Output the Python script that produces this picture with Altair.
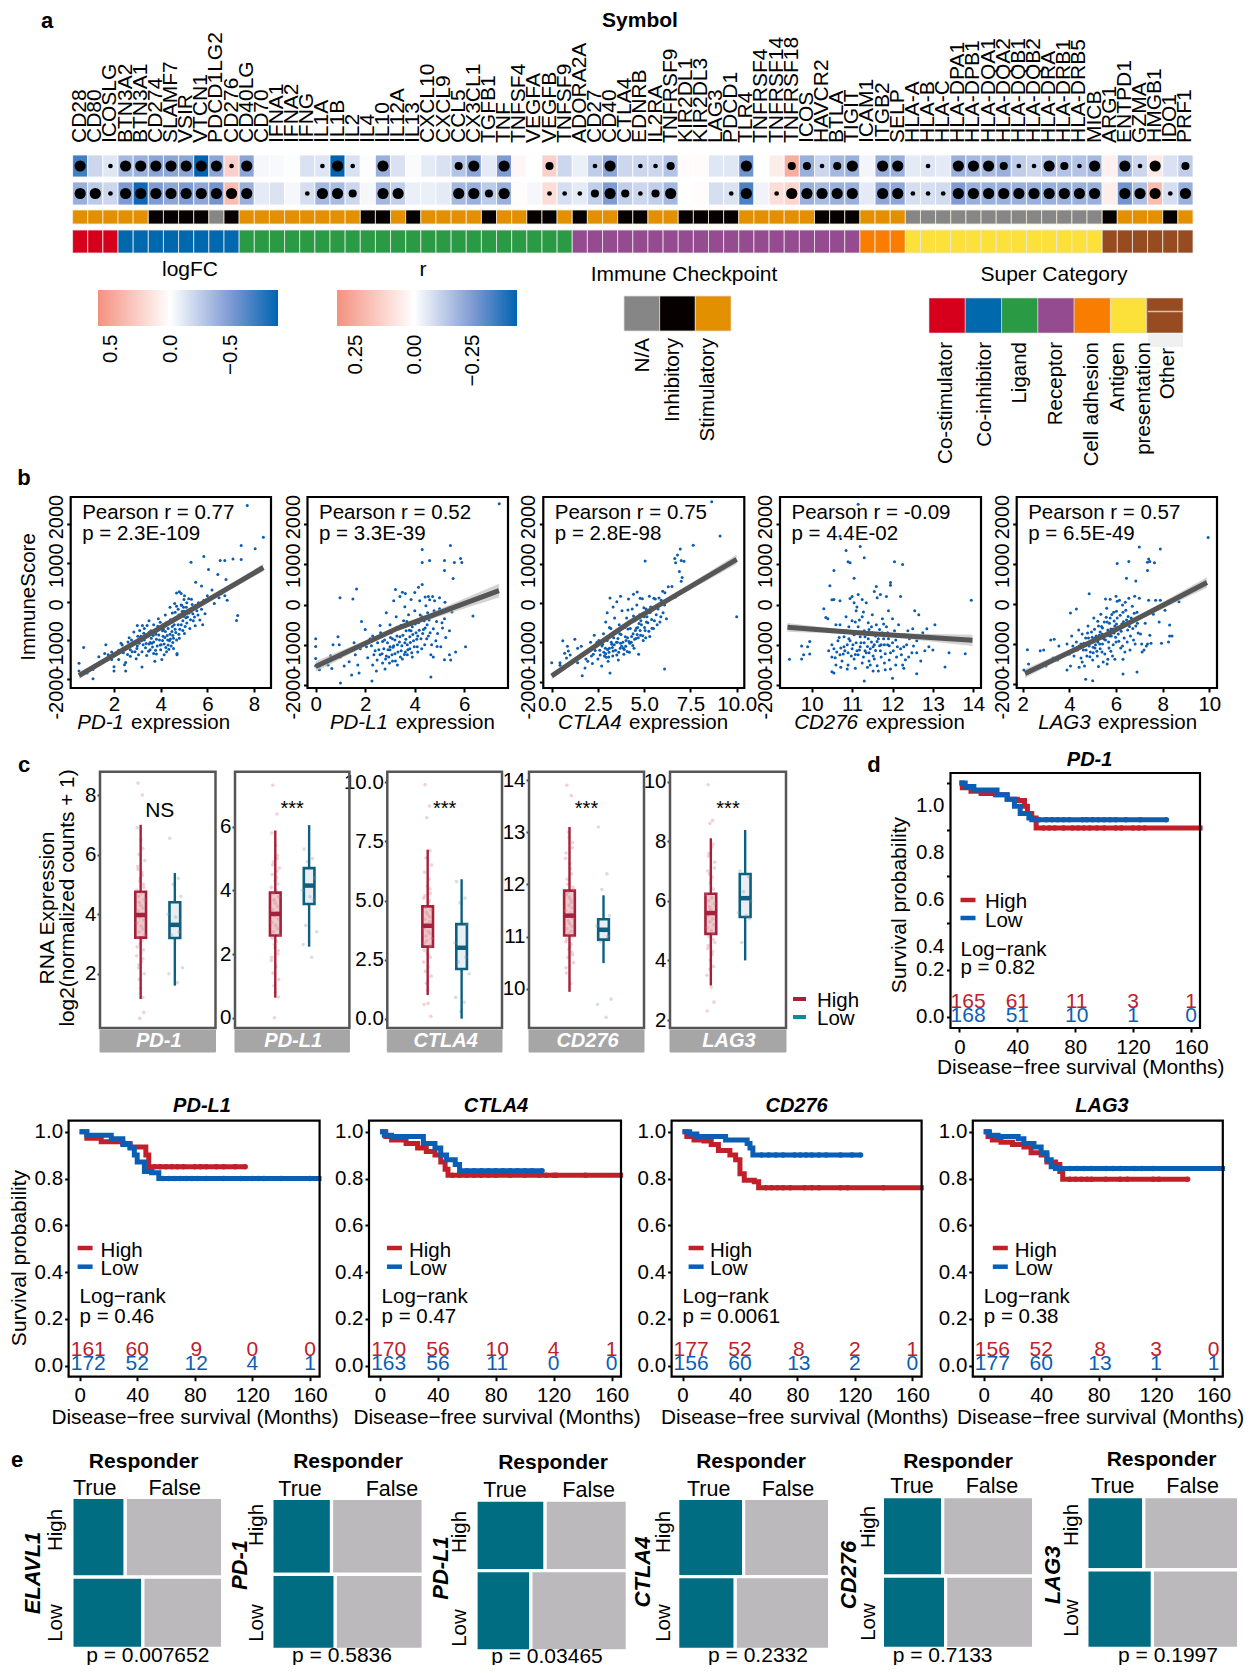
import altair as alt
import pandas as pd

# ---------------- panel a data ----------------
SYMBOLS = ["CD28","CD80","ICOSLG","BTN3A2","BTN3A1","CD274","SLAMF7","VSIR","VTCN1","PDCD1LG2","CD276","CD40LG","CD70",
 "IFNA1","IFNA2","IFNG","IL1A","IL1B","IL2","IL4","IL10","IL12A","IL13","CXCL10","CXCL9","CCL5","CX3CL1","TGFB1","TNF",
 "TNFSF4","VEGFA","VEGFB","TNFSF9","ADORA2A","CD27","CD40","CTLA4","EDNRB","IL2RA","TNFRSF9","KIR2DL1","KIR2DL3","LAG3",
 "PDCD1","TLR4","TNFRSF4","TNFRSF14","TNFRSF18","ICOS","HAVCR2","BTLA","TIGIT","ICAM1","ITGB2","SELP","HLA-A","HLA-B",
 "HLA-C","HLA-DPA1","HLA-DPB1","HLA-DQA1","HLA-DQA2","HLA-DQB1","HLA-DQB2","HLA-DRA","HLA-DRB1","HLA-DRB5","MICB","ARG1",
 "ENTPD1","GZMA","HMGB1","IDO1","PRF1"]
LOGFC = [-.7,-.2,-.12,-.35,-.4,-.45,-.45,-.45,-.9,-.45,.25,-.45,-.04,-.03,-.01,-.15,-.13,-.9,-.15,-.01,-.4,-.15,-.02,-.1,-.15,
 -.3,-.45,-.1,-.5,.05,0,.25,-.2,-.08,-.25,-.45,-.2,-.2,-.2,-.3,.02,.02,-.12,-.12,-.55,0,.1,.45,-.4,-.2,-.35,-.4,-.05,-.4,-.4,
 -.1,-.13,-.1,-.4,-.35,-.35,-.4,-.25,-.2,-.3,-.3,-.3,-.35,.08,-.35,-.2,.12,-.15,-.25]
RVAL = [-.2,-.13,-.1,-.25,-.42,-.25,-.22,-.25,-.22,-.27,.2,-.2,-.05,-.07,-.02,-.08,-.18,-.17,-.1,-.02,-.18,-.12,-.04,-.04,-.05,
 -.18,-.2,-.13,-.2,.01,-.02,.1,-.08,-.05,-.12,-.25,-.12,-.1,-.12,-.18,0,.01,-.08,-.07,-.33,-.03,.1,.13,-.2,-.17,-.2,-.2,-.05,
 -.22,-.22,-.08,-.08,-.09,-.25,-.2,-.2,-.2,-.2,-.2,-.2,-.2,-.2,-.2,.05,-.27,-.16,.2,-.08,-.2]
DOT_FC = [3,0,1,3,3,3,3,3,3,3,1,3,0,0,0,0,1,3,1,0,3,0,0,0,0,2,3,0,3,0,0,2,0,0,1,3,0,1,1,2,0,0,0,0,3,0,0,2,2,1,2,3,0,3,3,0,1,0,3,3,3,2,1,1,3,2,1,3,0,3,1,3,0,2]
DOT_R = [3,3,1,3,3,3,3,3,3,3,3,3,0,0,0,1,3,3,2,0,3,3,0,0,0,3,3,2,3,0,0,1,1,1,2,3,2,1,2,3,0,0,0,1,3,0,1,3,3,3,3,3,0,3,3,1,1,1,3,3,3,3,3,3,3,3,3,3,0,3,3,3,1,3]
CHECKPOINT = list("SSSSSIIIINISSSSSSSSIISISSSSISSIISISSIISSIIIISSSSSIIISSS") + ["N"]*13 + list("ISSSIS")
SUPER = ["Co-stimulator"]*3+["Co-inhibitor"]*8+["Ligand"]*22+["Receptor"]*19+["Cell adhesion"]*3+["Antigen presentation"]*13+["Other"]*6
SUPER_NAMES = ["Co-stimulator","Co-inhibitor","Ligand","Receptor","Cell adhesion","Antigen presentation","Other"]
SUPER_COLORS = ["#d7001c","#0068ac","#2a9a44","#944b8f","#f97d00","#fbe13a","#964b21"]
CK_NAMES = ["N/A","Inhibitory","Stimulatory"]
CK_COLORS = {"N":"#868686","I":"#060000","S":"#e39000"}
FC_DOMAIN = [-.9,-.5,0,.6]
R_DOMAIN = [-.44,-.25,0,.33]
HEAT_RANGE = ["#0063b1","#7f9bd3","#ffffff","#f4917f"]
DOT_AREA = {0:0,1:22,2:66,3:125}

# ---------------- panel b data ----------------
B_GENES = ["PD-1","PD-L1","CTLA4","CD276","LAG3"]
B_R = ["Pearson r = 0.77","Pearson r = 0.52","Pearson r = 0.75","Pearson r = -0.09","Pearson r = 0.57"]
B_P = ["p = 2.3E-109","p = 3.3E-39","p = 2.8E-98","p = 4.4E-02","p = 6.5E-49"]
B_YLABELS = ["2000","1000","0","-1000","-2000"]
FIT = {"PD-1":[(.5,-1920,90),(4.3,-570,28),(8.4,880,100)],"PD-L1":[(0,-1540,130),(3.3,-590,35),(7.4,350,170)],
       "CTLA4":[(0,-1855,90),(4.2,-500,28),(10,1110,120)],"CD276":[(9.4,-565,110),(11.4,-720,28),(13.98,-888,140)],
       "LAG3":[(2.1,-1737,110),(5.6,-760,28),(9.9,543,130)]}
SC_PD1 = [(7.71,2487),(8.4,1666),(8.05,1365),(7.45,1450),(7.45,1088),(7.1,1100),(6.75,1060),(6.55,1060),(5.85,1165),(5.3,1020),(6.05,830),(6.45,700),(7.3,-362),(7.25,-490),
(.5,-1600),(.5,-1800),(.7,-1190),(1.1,-1760),(1.1,-2000),(.85,-1850),(1.35,-1430),(1.65,-1120),(1.6,-1350),(1.75,-1380),(1.9,-1310),(1.9,-1500),(2.0,-1690),(2.0,-1800),(2.2,-1260),(2.2,-1500),(2.35,-1130),(2.4,-1330),(2.45,-1640),(2.5,-1580),(2.5,-1800),(2.6,-1050),(2.65,-940),(2.7,-1250),(2.7,-1420),(2.8,-1110),(2.85,-790),(2.9,-1300),(2.95,-1480),(3.0,-620),(3.0,-1050),(3.0,-1150),(3.15,-900),(3.2,-1300),(3.2,-1700),(3.3,-700),(3.3,-1000),(3.35,-1200),(3.4,-1400),(3.5,-500),(3.5,-800),(3.5,-1100),(3.55,-1250),(3.6,-950),(3.7,-600),(3.7,-1050),(3.7,-1350),(3.75,-1550),(3.8,-850),(3.85,-1150),(3.9,-450),(3.9,-720),(3.95,-1000),(4.0,-1250),(4.05,-1500),(4.1,-600),(4.1,-900),(4.15,-1100),(4.2,-350),(4.2,-780),(4.25,-1300),(4.3,-1000),(4.35,-550),(4.4,-150),(4.4,-850),(4.45,-1150),(4.5,-300),(4.5,-650),(4.55,-950),(4.6,-50),(4.6,-480),(4.65,-800),(4.7,-1350),(4.7,-1380),(4.75,-200),(4.75,-600),(4.8,250),(4.8,-950),(4.85,-350),(4.9,-100),(4.95,-500),(4.95,-750),(5.0,50),(5.0,-250),(5.05,-650),(5.1,-150),(5.15,-400),(5.2,70),(5.25,-700),(5.3,-250),(5.35,-80),(5.4,-500),(5.5,500),(5.5,-100),(5.6,-350),(5.75,400),(5.75,-200),(5.8,-600),(5.9,-320),(6.0,150),(6.2,300),(6.3,-50),(6.5,100),(6.6,200),(6.8,570),(6.75,150),(6.85,30),
(2.55,-1200),(2.75,-1000),(3.05,-1380),(3.1,-750),(3.25,-1120),(3.45,-900),(3.65,-1180),(3.72,-780),(3.92,-870),(4.02,-1120),(4.12,-720),(4.28,-880),(4.38,-1020),(4.48,-780),(4.58,-600),(4.72,-450),(4.82,-720),(4.92,-260),(5.08,-420),(5.22,-300),
(2.3,-1080),(2.58,-1370),(2.68,-1130),(2.78,-1300),(2.88,-1050),(2.98,-1220),(3.08,-1080),(3.18,-1020),(3.28,-820),(3.38,-1090),(3.48,-1290),(3.58,-760),(3.62,-1080),(3.68,-880),(3.78,-1260),(3.82,-980),(3.88,-640),(3.98,-1130),(3.98,-540),(4.08,-1010),(4.08,-760),(4.18,-930),(4.22,-1190),(4.22,-560),(4.32,-700),(4.32,-1130),(4.42,-470),(4.42,-970),(4.52,-1060),(4.52,-880),(4.62,-720),(4.62,-280),(4.68,-1000),(4.68,-120),(4.78,-850),(4.78,-350),(4.88,-600),(4.88,-90),(4.98,-380),(4.98,-150),(5.02,-830),(5.12,-560),(5.12,-30),(5.18,-240),(5.28,-470),(5.32,60),(5.38,-320),(5.48,-630),(5.55,-240),(5.62,-30),(3.02,-900),(3.22,-620),(3.42,-620),(3.55,-1060),(3.82,-1360),(4.15,-1380),(4.35,-1240),(4.55,-1220),(5.45,-400),(5.68,-480),(5.85,30),(4.68,220),(4.88,210),(5.02,150)]
SC_PDL1 = [(7.41,2510),(4.3,1370),(5.44,1470),(4.3,1050),(4.6,1100),(5.2,1100),(5.2,850),(5.6,1050),(5.85,1150),(5.9,1050),(5.55,650),(.98,170),(1.5,140),(1.65,390),(0,-850),(0,-1040),(0,-1340),(0,-1530),(.15,-1620),(6.35,-280),(5.4,-1250),(5.65,-1180),(6.05,-1050),(5.2,-1370),(4.65,-1250),(4.9,-1040),(5.45,-1380),(4.75,-1300),(4.65,-1800),(2.27,-1900),(1.0,-1950),(1.45,-1750),(1.75,-1700),
(.5,-1500),(.6,-1270),(.7,-1000),(.65,-1590),(.9,-800),(.95,-1000),(1.0,-1300),(1.15,-1530),(1.2,-1180),(1.35,-1420),(1.55,-950),(1.6,-1250),(1.7,-1500),(1.8,-1100),(1.85,-420),(2.0,-620),(2.05,-1050),(2.1,-1320),(2.2,-850),(2.3,-1500),(2.3,-780),(2.4,-1150),(2.45,-1650),(2.5,-950),(2.6,-1250),(2.6,-520),(2.65,-800),(2.7,-1450),(2.75,-1100),(2.8,-1600),(2.85,-200),(2.9,-950),(2.95,-1300),(3.0,-500),(3.0,-1120),(3.05,-700),(3.1,-1400),(3.15,100),(3.2,-880),(3.2,-1220),(3.25,-300),(3.3,-1000),(3.3,-1500),(3.35,-600),(3.4,200),(3.4,-800),(3.45,-1150),(3.5,-1350),(3.55,-400),(3.6,-50),(3.6,-950),(3.65,-650),(3.7,-1250),(3.75,-250),(3.8,-800),(3.8,-1100),(3.9,-550),(3.9,-1300),(3.95,-900),(4.0,300),(4.0,-150),(4.05,-700),(4.1,-1050),(4.15,-450),(4.2,100),(4.25,-850),(4.3,500),(4.3,-300),(4.35,-620),(4.4,-1000),(4.45,-30),(4.5,-500),(4.55,-780),(4.6,120),(4.7,-300),(4.75,-600),(4.8,100),(4.85,-900),(5.0,-100),(5.1,-450),(5.2,-350),(5.4,-650),(5.5,-180),(3.0,-1050),(2.85,-1280),(3.15,-1020),(3.42,-1300),(3.62,-1180),(3.1,-850),(2.7,-920),(3.7,-1000),(3.85,-650),(4.12,-780),
(2.25,-1020),(2.35,-1250),(2.48,-1380),(2.55,-1120),(2.62,-700),(2.68,-1220),(2.78,-880),(2.82,-1350),(2.92,-1120),(2.98,-1450),(3.02,-820),(3.08,-1250),(3.12,-1060),(3.18,-640),(3.22,-1400),(3.28,-780),(3.32,-1180),(3.38,-930),(3.44,-520),(3.48,-1020),(3.52,-760),(3.58,-1240),(3.64,-860),(3.68,-420),(3.72,-1120),(3.78,-640),(3.82,-940),(3.88,-1200),(3.92,-740),(3.98,-1050),(4.02,-480),(4.08,-860),(4.12,-1180),(4.18,-640),(4.22,-260),(4.28,-1100),(4.32,-720),(4.38,-400),(4.42,-580),(4.48,-850),(4.52,-200),(4.58,-380),(4.62,-700),(4.68,-1000),(4.78,-150),(4.88,-420),(4.92,-720),(5.05,-1050),(5.12,-580),(5.25,-820),(3.22,380),(3.5,310),(3.62,280),(3.85,130),(4.15,430),(4.42,190),(4.55,200),(4.72,200),(5.0,170),(5.22,60)]
SC_CTLA4 = [(8.65,2570),(9.1,1700),(7.65,1470),(6.95,1370),(5.05,1070),(6.65,1130),(6.7,1020),(6.8,1220),(7.15,1060),(7.0,1080),(6.9,800),(7.05,650),(7.0,550),(10,-350),(6.1,-1680),(3.15,130),(0,-1520),(.45,-1520),(.45,-1580),(.6,-960),(.85,-1100),(.9,-1220),(1.0,-1320),(1.3,-1420),(1.4,-1520),(.7,-1280),(.8,-1400),(1.25,-920),(1.65,-1850),(1.8,-1650),(1.0,-1540),
(1.4,-1150),(1.6,-1100),(1.7,-1280),(1.85,-1420),(2.0,-1200),(2.1,-1000),(2.2,-1540),(2.25,-1300),(2.3,-820),(2.4,-1100),(2.5,-1420),(2.55,-950),(2.6,-1200),(2.7,-1600),(2.75,-1050),(2.8,-780),(2.85,-1350),(2.9,-1150),(3.0,-250),(3.0,-950),(3.05,-1480),(3.1,-1250),(3.15,-1780),(3.2,-650),(3.25,-1050),(3.3,-1350),(3.35,-880),(3.4,-380),(3.45,-1200),(3.5,-700),(3.55,-1000),(3.6,-1450),(3.65,-550),(3.7,-1150),(3.75,-800),(3.8,-200),(3.85,-1000),(3.9,-1300),(3.95,-620),(4.0,-1100),(4.05,-380),(4.1,-880),(4.15,100),(4.2,-1250),(4.25,-650),(4.3,-1000),(4.35,-150),(4.4,-780),(4.45,-1150),(4.5,-450),(4.55,-900),(4.6,-50),(4.65,-620),(4.7,-1300),(4.75,-300),(4.8,-820),(4.85,-550),(4.9,110),(4.95,-950),(5.0,-350),(5.05,-700),(5.1,-150),(5.2,-500),(5.3,-850),(5.35,-100),(5.4,-420),(5.5,-650),(5.6,100),(5.65,-300),(5.7,-550),(5.8,130),(5.9,-350),(6.0,300),(6.1,-50),(6.2,-400),(6.3,410),(6.5,420),(6.7,150),
(3.5,-1000),(3.62,-1250),(3.78,-1100),(3.88,-1150),(4.02,-950),(4.22,-1020),(4.32,-850),(4.52,-700),(4.62,-800),(4.72,-520),(4.82,-450),(5.02,-620),(5.12,-480),(2.82,-1250),(2.95,-1380),(3.12,-1150),(3.22,-1000),(3.32,-1220),
(1.95,-1480),(2.15,-1350),(2.35,-1210),(2.45,-1000),(2.62,-1320),(2.72,-1090),(2.92,-1290),(3.02,-1180),(3.08,-1370),(3.18,-830),(3.28,-1130),(3.38,-1060),(3.42,-760),(3.52,-1320),(3.58,-900),(3.68,-780),(3.72,-1020),(3.82,-600),(3.92,-1180),(3.98,-860),(4.08,-1230),(4.12,-660),(4.18,-980),(4.28,-480),(4.38,-1080),(4.42,-330),(4.48,-920),(4.58,-640),(4.68,-880),(4.78,-700),(4.88,-280),(4.92,-830),(4.98,-120),(5.08,-880),(5.15,-350),(5.25,-720),(5.32,-240),(5.42,-640),(5.45,-130),(5.55,-450),(5.75,-150),(5.85,-480),(4.12,-180),(4.42,220),(4.62,280),(3.72,170),(3.52,30),(3.32,-100),(3.12,-620),(2.92,-480),(5.28,170),(5.52,120),(5.92,70),(6.12,260),(6.02,-250),(4.78,120)]
SC_CD276 = [(11.15,2500),(10.7,1700),(10.85,1350),(11.2,1450),(11.3,1170),(10.9,1070),(10.95,1040),(10.55,850),(12.05,1070),(12.25,1000),(11.05,660),(10.45,470),(11.95,550),(11.95,480),(13.95,110),(9.45,-1360),(9.75,-1030),(9.95,-920),(9.9,-1050),(9.8,-1250),(9.95,-1230),(9.75,-1350),(10.55,-1700),(10.5,-1670),(11.3,-1900),(12.0,-1830),(12.6,-1720),(13.3,-1550),(13.0,-1130),(13.8,-1220),(13.4,-1200),
(10.3,-100),(10.35,-320),(10.4,-350),(10.5,120),(10.55,130),(10.6,-500),(10.7,100),(10.7,-500),(10.5,-1000),(10.5,-1300),(10.55,-1100),(10.6,-1500),(10.65,-900),(10.7,-1250),(10.75,-1400),(10.8,-800),(10.8,-1050),(10.85,-300),(10.85,-650),(10.9,-1200),(10.9,-1500),(10.95,-900),(11.0,200),(11.0,-400),(11.0,-1100),(11.05,-750),(11.05,-1350),(11.1,-150),(11.1,-950),(11.15,250),(11.15,-550),(11.15,-1250),(11.2,-800),(11.2,-1050),(11.25,-300),(11.25,-1450),(11.3,-650),(11.3,-950),(11.35,50),(11.35,-1200),(11.4,-450),(11.4,-850),(11.45,-1500),(11.45,-1100),(11.5,-250),(11.5,-700),(11.55,-1000),(11.55,-1350),(11.6,450),(11.6,-500),(11.65,-850),(11.65,-1650),(11.7,250),(11.7,-1150),(11.75,-350),(11.75,-700),(11.8,-1000),(11.8,-1450),(11.85,200),(11.85,-550),(11.9,-150),(11.9,-850),(11.95,-1200),(11.95,-1600),(12.0,-350),(12.0,-950),(12.05,-650),(12.1,-1300),(12.15,-500),(12.2,-1100),(12.2,200),(12.25,-1500),(12.3,-750),(12.35,-1000),(12.4,-1300),(12.5,-600),(12.55,-150),(12.6,-900),(12.6,-1200),(12.65,-250),(12.7,-1400),(12.75,-700),(12.8,-1150),(12.85,-600),(12.9,-1050),(13.05,-500),
(11.02,-1000),(11.12,-1150),(11.22,-680),(11.32,-1150),(11.42,-1200),(11.52,-1050),(11.62,-920),(11.72,-1000),(11.92,-1020),(10.92,-850),(10.82,-1150),(11.42,-620),(11.28,-1300),
(10.62,-1180),(10.68,-820),(10.72,-1080),(10.78,-1230),(10.88,-1000),(10.92,-550),(10.98,-1280),(11.02,-700),(11.08,-430),(11.08,-1240),(11.12,-60),(11.18,-380),(11.18,-1130),(11.22,-950),(11.28,-180),(11.32,-800),(11.38,-1040),(11.42,-1400),(11.48,-930),(11.48,-550),(11.52,-1280),(11.58,-780),(11.58,-1140),(11.62,-1520),(11.68,-620),(11.68,-1020),(11.72,-1300),(11.78,-850),(11.78,-480),(11.82,-1220),(11.88,-700),(11.88,-1000),(11.92,-1380),(11.98,-760),(12.02,-1150),(12.08,-880),(12.12,-1050),(12.18,-780),(12.22,-1250),(12.28,-1050),(12.32,-1370),(12.38,-650),(12.42,-850),(12.48,-1200),(12.52,-1030),(10.42,-1150),(10.58,-1320),(10.72,-1560),(10.88,-1600),(11.08,-1580),(11.38,-1560),(11.52,-1650),(11.82,-1620),(12.08,-1500),(12.28,-1580),(10.95,150),(11.25,130),(11.05,50),(11.55,330),(11.62,170)]
SC_LAG3 = [(9.95,1670),(7.9,1380),(7.0,1430),(7.4,1130),(7.35,1050),(7.45,1070),(7.65,1040),(6.05,1020),(6.55,1070),(7.35,840),(6.45,650),(6.85,580),(2.2,-1140),(2.75,-1170),(2.9,-1150),(2.25,-1500),(2.05,-1650),(3.35,-880),(3.2,-900),(4.85,260),(4.3,-120),(4.05,-220),(8.7,60),(8.3,-520),(8.3,-800),(8.4,-800),(7.95,-980),(8.25,-950),(6.3,-1750),(6.9,-1700),(5.0,-1920),(4.7,-1880),
(3.0,-1550),(3.3,-1350),(3.5,-1400),(3.55,-1050),(3.7,-1300),(3.9,-1650),(3.9,-1000),(4.0,-1250),(4.05,-1550),(4.1,-800),(4.15,-1050),(4.2,-1300),(4.3,-950),(4.35,-1150),(4.4,-650),(4.5,-1350),(4.5,-1000),(4.55,-750),(4.6,-1150),(4.65,-1550),(4.7,-850),(4.75,-1300),(4.8,-550),(4.85,-1050),(4.9,-1200),(4.95,-700),(5.0,-950),(5.0,-1400),(5.05,-350),(5.1,-1100),(5.15,-800),(5.2,-1300),(5.25,-550),(5.3,-1000),(5.35,-250),(5.4,-750),(5.4,-1200),(5.45,-1450),(5.5,-450),(5.55,-900),(5.6,-100),(5.65,-650),(5.7,-1100),(5.75,-350),(5.8,-800),(5.85,-1300),(5.9,-200),(5.95,-550),(6.0,-950),(6.0,200),(6.05,-350),(6.1,-750),(6.15,100),(6.2,-1100),(6.25,-500),(6.3,-200),(6.35,-850),(6.4,50),(6.45,-400),(6.5,-650),(6.55,150),(6.6,-1150),(6.65,-350),(6.7,-50),(6.75,-900),(6.8,200),(6.85,-550),(6.9,-200),(7.0,150),(7.05,-750),(7.1,-1000),(7.2,-1150),(7.3,-1050),(7.4,100),(7.45,-780),(7.6,-250),(7.7,100),(7.9,100),(7.85,-450),(8.1,-150),(7.5,-980),
(5.1,-850),(5.22,-950),(5.32,-700),(5.42,-600),(5.52,-780),(5.62,-450),(5.72,-800),(4.92,-950),(5.02,-1080),(4.82,-850),(5.78,-620),(5.92,-720),(6.02,-500),
(4.25,-1120),(4.42,-1050),(4.62,-980),(4.72,-1150),(4.78,-720),(4.88,-1320),(4.98,-830),(5.02,-1220),(5.08,-630),(5.12,-1020),(5.18,-1180),(5.22,-430),(5.28,-780),(5.32,-1120),(5.38,-560),(5.42,-1000),(5.48,-870),(5.52,-1250),(5.58,-330),(5.62,-720),(5.68,-950),(5.72,-480),(5.78,-1180),(5.82,-260),(5.88,-620),(5.88,-1020),(5.92,-420),(5.98,-830),(6.02,-180),(6.08,-580),(6.12,-930),(6.18,-280),(6.22,-680),(6.28,-1050),(6.32,-440),(6.38,-1200),(6.42,-150),(6.48,-950),(6.52,-310),(6.58,-560),(6.62,-800),(6.72,-610),(6.78,-230),(6.82,-1000),(6.92,-480),(6.95,-720),(7.12,-1200),(7.25,-480),(7.35,-1000),(5.65,-1380),(5.95,-1380),(6.3,-1380),(4.55,-1450),(5.25,-1560),(5.62,-1500),(4.42,-1580),(6.28,-20),(6.05,70),(5.75,120),(5.55,130)]
SCATTER = {"PD-1":SC_PD1,"PD-L1":SC_PDL1,"CTLA4":SC_CTLA4,"CD276":SC_CD276,"LAG3":SC_LAG3}

# ---------------- panel c data ----------------
BOXES = {"PD-1":[(3.21,3.97,4.75,1.15,7.0),(3.2,3.64,4.4,1.6,5.38)],
 "PD-L1":[(2.58,3.26,3.93,.63,5.88),(3.57,4.15,4.7,2.23,6.05)],
 "CTLA4":[(3.05,3.93,4.75,1.0,7.15),(2.1,3.0,4.0,0,5.9)],
 "CD276":[(11.02,11.4,11.88,9.94,13.1),(10.94,11.13,11.33,10.49,11.79)],
 "LAG3":[(4.89,5.59,6.24,3.16,8.1),(5.46,6.09,6.9,4.0,8.38)]}
JIT = [-.06,.04,-.02,.07,-.08,.01,.05,-.04,.09,-.07,.03,-.01,.06,-.09,.02,-.05,.08,-.03,.0,.05]
HIGH_PTS = {"PD-1":[8.4,8.0,.5,.7,6.9,6.5,6.2,6.0,5.8,5.6,5.4,5.2,5.0,4.8,4.7,4.6,4.5,4.4,4.3,4.2,4.1,4.0,3.9,3.8,3.7,3.6,3.5,3.4,3.3,3.2,3.1,3.0,2.8,2.6,2.4,2.2,2.0,1.8,1.5,1.2,5.5,5.3,5.1,4.9,2.9,2.7,2.5,2.3],
 "PD-L1":[7.3,6.4,0,.65,5.8,5.4,5.1,4.9,4.7,4.5,4.4,4.3,4.2,4.1,4.0,3.9,3.8,3.7,3.6,3.5,3.4,3.3,3.2,3.1,3.0,2.9,2.8,2.7,2.6,2.5,2.4,2.2,2.0,1.8,1.6,1.4,1.2,1.0,.8,5.0,4.8,4.6,2.3,2.1,1.9],
 "CTLA4":[9.9,9.0,8.5,.1,.6,.65,7.1,6.8,6.5,6.2,5.9,5.6,5.3,5.1,4.9,4.7,4.6,4.5,4.4,4.3,4.2,4.1,4.0,3.9,3.8,3.7,3.6,3.5,3.4,3.2,3.0,2.8,2.6,2.4,2.2,2.0,1.8,1.5,1.2,5.5,5.2,5.0,3.3,3.1,2.9,2.7],
 "CD276":[13.9,13.7,13.0,12.8,12.6,12.4,12.2,12.0,11.9,11.8,11.7,11.6,11.55,11.5,11.45,11.4,11.35,11.3,11.25,11.2,11.15,11.1,11.05,11.0,10.9,10.8,10.7,10.6,10.5,10.3,10.1,12.9,12.7,12.5,12.3,12.1,11.95,11.85,11.75,11.65,10.95,10.85,10.75,10.65,10.4],
 "LAG3":[9.9,8.7,8.6,2.6,2.3,3.1,7.9,7.6,7.3,7.0,6.8,6.6,6.4,6.2,6.1,6.0,5.9,5.8,5.7,5.6,5.5,5.4,5.3,5.2,5.1,5.0,4.9,4.8,4.6,4.4,4.2,4.0,3.8,3.5,7.8,7.5,7.1,6.9,6.7,4.7,4.5,4.3,3.7]}
LOW_PTS = {"PD-1":[6.55,5.2,5.0,4.6,4.0,3.9,3.4,3.3,2.2,2.0,1.7],
 "PD-L1":[5.3,5.0,4.9,4.4,4.0,3.8,3.7,2.9,2.7,2.3,1.9],
 "CTLA4":[5.8,5.1,4.9,4.0,3.2,3.0,2.6,2.4,1.9,.9,.7,.3],
 "CD276":[13.1,12.2,11.9,11.4,11.2,11.1,11.0,10.9,9.8,9.7,9.45],
 "LAG3":[7.0,6.8,6.3,6.0,5.6,5.5,5.4,4.6]}
C_SIG = {"PD-1":"NS","PD-L1":"***","CTLA4":"***","CD276":"***","LAG3":"***"}

# ---------------- survival data ----------------
KM = {
 "PD-1":dict(high=[(0,1),(2,.98),(8,.965),(15,.955),(25,.95),(33,.93),(40,.925),(45,.90),(47,.87),(50,.85),(53,.807),(168,.807)],
   low=[(0,1),(4,.985),(10,.97),(26,.95),(33,.93),(38,.90),(42,.87),(48,.85),(50,.843),(143,.843)],
   ch=[58,62,66,72,78,82,86,90,95,100,108,112,120,124,128],cl=[55,60,64,68,72,76,85,88,92,96,100,104,108,115,125,143],
   nh=[165,61,11,3,1],nl=[168,51,10,1,0],p="p = 0.82"),
 "PD-L1":dict(high=[(0,1),(5,.972),(15,.957),(30,.95),(35,.935),(46,.90),(48,.85),(115,.85)],
   low=[(0,1),(5,.985),(22,.97),(30,.945),(35,.93),(38,.90),(40,.87),(45,.83),(50,.825),(55,.80),(168,.80)],
   ch=[52,56,60,64,68,72,80,84,88,95,100,108,115],cl=[58,62,66,70,74,78,82,88,100,112,120,124,128,140,160],
   nh=[161,60,9,0,0],nl=[172,52,12,4,1],p="p = 0.46"),
 "CTLA4":dict(high=[(0,1),(4,.98),(8,.965),(18,.95),(26,.93),(32,.915),(38,.90),(42,.87),(45,.84),(47,.814),(168,.814)],
   low=[(0,1),(3,.985),(8,.98),(30,.95),(38,.93),(42,.90),(46,.88),(52,.86),(55,.833),(112,.833)],
   ch=[50,55,60,65,70,75,80,90,100,110,115,120,122,142],cl=[60,65,70,75,80,85,90,95,100,105,112],
   nh=[170,56,10,4,1],nl=[163,56,11,0,0],p="p = 0.47"),
 "CD276":dict(high=[(0,1),(3,.98),(8,.965),(15,.96),(20,.945),(25,.92),(33,.90),(37,.88),(40,.82),(43,.793),(50,.786),(53,.76),(168,.76)],
   low=[(0,1),(5,.99),(10,.98),(30,.965),(45,.95),(47,.93),(49,.90),(124,.90)],
   ch=[58,62,66,70,75,85,90,95,110,115,140],cl=[55,60,65,70,78,82,86,90,95,100,110,118,124],
   nh=[177,52,8,2,1],nl=[156,60,13,2,0],p="p = 0.0061"),
 "LAG3":dict(high=[(0,1),(3,.98),(6,.965),(12,.955),(20,.945),(28,.935),(33,.91),(40,.90),(44,.87),(50,.86),(53,.83),(55,.797),(142,.797)],
   low=[(0,1),(4,.985),(10,.98),(24,.97),(28,.95),(35,.935),(40,.91),(44,.88),(47,.85),(50,.843),(168,.843)],
   ch=[60,64,68,72,75,85,95,100,118,122,142],cl=[55,60,65,70,75,85,90,95,105,110,118],
   nh=[156,52,8,3,0],nl=[177,60,13,1,1],p="p = 0.38")}
RISK_T = [6,40,81,120,160]

# ---------------- mosaic data ----------------
MOS_NAMES = ["ELAVL1","PD-1","PD-L1","CTLA4","CD276","LAG3"]
MOS_HIGH_TRUE = [.354,.394,.457,.434,.399,.375]
MOS_LOW_TRUE = [.471,.419,.363,.379,.418,.432]
MOS_HIGH_ROW = [.528,.503,.468,.519,.524,.483]
MOS_P = ["p = 0.007652","p = 0.5836","p = 0.03465","p = 0.2332","p = 0.7133","p = 0.1997"]

# ---------------- helpers ----------------
W, H = 1236, 1657
F = "Liberation Sans"
ONE = alt.Data(values=[{"a": 1}])
RED, BLUE = "#c1202b", "#0a5fb4"

def px(v):
    return alt.value(v - 8)

def T(s, x, y, size=20.5, angle=0, align="center", base="middle", weight="normal", style="normal", color="black"):
    return alt.Chart(ONE).mark_text(font=F, fontSize=size, angle=angle, align=align, baseline=base,
        fontWeight=weight, fontStyle=style, color=color).encode(x=px(x), y=px(y), text=alt.value(s))

def box(l, r, t, b, fill="transparent", stroke="black", sw=2):
    return alt.Chart(ONE).mark_rect(fill=fill, stroke=stroke, strokeWidth=sw).encode(x=px(l), x2=px(r), y=px(t), y2=px(b))

def bar(l, r, y, color, sw=4):
    return alt.Chart(ONE).mark_rule(color=color, strokeWidth=sw).encode(x=px(l), x2=px(r), y=px(y))

def S(dom, lo, hi):
    return alt.Scale(domain=dom, range=[lo - 8, hi - 8], nice=False, zero=False)

def dom(v1, p1, v2, p2, a, b):
    k = (v2 - v1) / (p2 - p1)
    return [v1 + (a - p1) * k, v1 + (b - p1) * k]

def axB(values, b, size=20.5, pad=3, tick=4, col="black", **kw):
    return alt.Axis(orient="bottom", offset=b - 8 - H, values=values, title=None, grid=False, domain=False,
        tickColor=col, tickWidth=2, tickSize=tick, labelFont=F, labelFontSize=size, labelColor="black",
        labelPadding=pad, labelOverlap=False, labelFlush=False, labelBound=False, **kw)

def axL(values, l, size=20.5, pad=3, tick=4, col="black", **kw):
    return alt.Axis(orient="left", offset=-(l - 8), values=values, title=None, grid=False, domain=False,
        tickColor=col, tickWidth=2, tickSize=tick, labelFont=F, labelFontSize=size, labelColor="black",
        labelPadding=pad, labelOverlap=False, labelFlush=False, labelBound=False, **kw)

def x_axis_layer(scale, axis, values):
    d = pd.DataFrame(dict(v=values))
    return alt.Chart(d).mark_point(opacity=0).encode(x=alt.X("v:Q", scale=scale, axis=axis))

def y_axis_layer(scale, axis, values):
    d = pd.DataFrame(dict(v=values))
    return alt.Chart(d).mark_point(opacity=0).encode(y=alt.Y("v:Q", scale=scale, axis=axis))

layers = []

# ---------------- panel a ----------------
HL, HR = 72.6, 1193
n = len(SYMBOLS)
hdf = pd.DataFrame(dict(i=list(range(n)), sym=SYMBOLS, fc=LOGFC, r=RVAL,
    dfc=[DOT_AREA[d] for d in DOT_FC], dr=[DOT_AREA[d] for d in DOT_R],
    ck=[CK_COLORS[c] for c in CHECKPOINT], sc=[SUPER_COLORS[SUPER_NAMES.index(c)] for c in SUPER]))
hdf["i2"] = hdf.i + 1
hdf["ic"] = hdf.i + .5
HX = S([0, n], HL, HR)
hx = alt.X("i:Q", scale=HX, axis=None)
hxc = alt.X("ic:Q", scale=HX, axis=None)
hbase = alt.Chart(hdf)
def cscale(d):
    return alt.Scale(domain=d, range=HEAT_RANGE, interpolate="rgb", nice=False, zero=False, clamp=True)
heat = alt.layer(
    hbase.mark_rect(stroke="white", strokeWidth=.8).encode(x=hx, x2="i2:Q", y=px(155), y2=px(177),
        color=alt.Color("fc:Q", scale=cscale(FC_DOMAIN), legend=None)),
    hbase.mark_circle(color="black", opacity=1).encode(x=hxc, y=px(166), size=alt.Size("dfc:Q", scale=None)),
)
heat2 = alt.layer(
    hbase.mark_rect(stroke="white", strokeWidth=.8).encode(x=hx, x2="i2:Q", y=px(182), y2=px(205),
        color=alt.Color("r:Q", scale=cscale(R_DOMAIN), legend=None)),
    hbase.mark_circle(color="black", opacity=1).encode(x=hxc, y=px(193.5), size=alt.Size("dr:Q", scale=None)),
)
heat3 = alt.layer(
    hbase.mark_rect(stroke="#f4ecd8", strokeWidth=.8).encode(x=hx, x2="i2:Q", y=px(210), y2=px(224),
        color=alt.Color("ck:N", scale=None)),
    hbase.mark_rect(stroke="#e8e8e8", strokeWidth=.8).encode(x=hx, x2="i2:Q", y=px(230), y2=px(253),
        color=alt.Color("sc:N", scale=None)),
    hbase.mark_text(font=F, fontSize=21, angle=270, align="left", baseline="middle", color="black").encode(
        x=hxc, y=px(143), text="sym:N"),
)
layers += [heat, heat2, heat3]

layers += [T("a", 47, 20.5, 22, weight="bold"), T("Symbol", 640, 20.5, 21, weight="bold"),
           T("logFC", 190, 270, 21), T("r", 423, 270, 21),
           T("Immune Checkpoint", 684, 275, 21), T("Super Category", 1054, 275, 21)]

def grad(dm, l, r, fmt, vals):
    stops = []
    span = dm[-1] - dm[0]
    for v, c in zip(reversed(dm), reversed(HEAT_RANGE)):
        stops.append({"offset": (dm[-1] - v) / span, "color": c})
    g = pd.DataFrame(dict(a=[dm[-1]], b=[dm[0]]))
    sc = S([dm[-1], dm[0]], l, r)
    return alt.Chart(g).mark_rect(fill={"gradient": "linear", "x1": 0, "x2": 1, "y1": 0, "y2": 0, "stops": stops}).encode(
        x=alt.X("a:Q", scale=sc, axis=axB(vals, 326, size=20.5, pad=8, tick=0, format=fmt, labelAngle=270, labelAlign="right", labelBaseline="middle")),
        x2="b:Q", y=px(290), y2=px(326))
layers += [grad(FC_DOMAIN, 98, 278, ".1f", [.5, 0, -.5]), grad(R_DOMAIN, 337, 517, ".2f", [.25, 0, -.25])]

ckdf = pd.DataFrame(dict(i=[0, 1, 2], c=[CK_COLORS["N"], CK_COLORS["I"], CK_COLORS["S"]]))
ckdf["i2"] = ckdf.i + 1
layers.append(alt.Chart(ckdf).mark_rect(stroke="#dddddd", strokeWidth=.8).encode(
    x=alt.X("i:Q", scale=S([0, 3], 624, 731), axis=None), x2="i2:Q", y=px(296), y2=px(331), color=alt.Color("c:N", scale=None)))
for s, x in zip(CK_NAMES, [643, 673, 708]):
    layers.append(T(s, x, 338, 20.7, angle=270, align="right"))
scdf = pd.DataFrame(dict(i=list(range(7)), c=SUPER_COLORS))
scdf["i2"] = scdf.i + 1
layers.append(alt.Chart(scdf).mark_rect(stroke="#dddddd", strokeWidth=.6).encode(
    x=alt.X("i:Q", scale=S([0, 7], 929, 1183), axis=None), x2="i2:Q", y=px(298), y2=px(333), color=alt.Color("c:N", scale=None)))
layers.append(box(1148, 1183, 311, 312, fill="#d8c0b0", stroke="#d8c0b0", sw=.5))
layers.append(box(1148, 1183, 334, 347, fill="#f0f0f0", stroke="#f0f0f0", sw=0))
for s, x, y in [("Co-stimulator", 946, 342), ("Co-inhibitor", 985, 342), ("Ligand", 1020, 342), ("Receptor", 1056, 342),
                ("Cell adhesion", 1092, 342), ("Antigen", 1118, 342), ("presentation", 1144, 342), ("Other", 1168, 348)]:
    layers.append(T(s, x, y, 20.5, angle=270, align="right"))

# ---------------- panel b ----------------
B_FRAMES = [(70.7, 271), (307.5, 508), (543.3, 744.3), (780, 981), (1016.7, 1217)]
B_TOP, B_BOT = 497, 688
B_XT = [(2, 114, 8, 254, [2, 4, 6, 8], "d"), (0, 315.7, 6, 464.3, [0, 2, 4, 6], "d"), (0, 551.7, 10, 736.7, [0, 2.5, 5, 7.5, 10], ".1f"),
        (10, 811.7, 14, 973.3, [10, 11, 12, 13, 14], "d"), (2, 1022.7, 10, 1209.3, [2, 4, 6, 8, 10], "d")]
B_YT = [(524.3, 678.7), (524.3, 685), (524.3, 681.7), (524.3, 685), (524.3, 684)]
B_YLAB_POS = [517, 565.7, 605, 646.7, 694]
B_TITLE = [(124, 131), (388, 395.7), (621.7, 629), (858, 865.7), (1090.7, 1098)]
for g, (l, r), xt, yt, rs, ps, tt in zip(B_GENES, B_FRAMES, B_XT, B_YT, B_R, B_P, B_TITLE):
    sx = S(dom(xt[0], xt[1], xt[2], xt[3], l, r), l, r)
    sy = S(dom(2000, yt[0], -2000, yt[1], B_BOT, B_TOP), B_BOT, B_TOP)
    pts = pd.DataFrame(SCATTER[g], columns=["x", "y"])
    fit = pd.DataFrame(FIT[g], columns=["x", "y", "ci"])
    fit["lo"] = fit.y - fit.ci
    fit["hi"] = fit.y + fit.ci
    X0 = alt.X("x:Q", scale=sx, axis=None)
    Y0 = alt.Y("y:Q", scale=sy, axis=None)
    yvals = [-2000, -1000, 0, 1000, 2000]
    layers.append(alt.layer(
        alt.Chart(pts).mark_circle(color="#0a5cb0", size=9, opacity=1).encode(x=X0, y=Y0),
        alt.Chart(fit).mark_area(color="#b5b5b5", opacity=.6).encode(x=X0, y=alt.Y("lo:Q", scale=sy, axis=None), y2="hi:Q"),
        alt.Chart(fit).mark_line(color="#565656", strokeWidth=5).encode(x=X0, y=Y0),
    ))
    layers.append(box(l, r, B_TOP, B_BOT, sw=2.2))
    layers.append(x_axis_layer(sx, axB(xt[4], B_BOT, format=xt[5], pad=2), xt[4]))
    layers.append(y_axis_layer(sy, axL(yvals, l, labels=False), yvals))
    for lab, cy in zip(B_YLABELS, B_YLAB_POS):
        layers.append(T(lab, l - 14, cy, 20, angle=270))
    layers.append(T(rs, l + 11.5, 513, 20.5, align="left"))
    layers.append(T(ps, l + 11.5, 534, 20.5, align="left"))
    layers.append(T(g, tt[0], 723, 20.5, align="right", style="italic"))
    layers.append(T("expression", tt[1], 723, 20.5, align="left"))
layers += [T("b", 24, 478, 22, weight="bold"), T("ImmuneScore", 29, 597, 20.5, angle=270)]

# ---------------- panel c ----------------
C_FRAMES = {"PD-1": (100, 215.5), "PD-L1": (235, 349.4), "CTLA4": (387.3, 502), "CD276": (529, 644), "LAG3": (670, 786)}
C_TOP, C_BOT = 771.7, 1028
C_YT = {"PD-1": (8, 795, 2, 973.7, [2, 4, 6, 8], "d"), "PD-L1": (6, 826.7, 0, 1017.7, [0, 2, 4, 6], "d"),
        "CTLA4": (10, 782.3, 0, 1018.7, [0, 2.5, 5, 7.5, 10], ".1f"), "CD276": (14, 780, 10, 988.7, [10, 11, 12, 13, 14], "d"),
        "LAG3": (10, 781.7, 2, 1020, [2, 4, 6, 8, 10], "d")}
C_COL = ["#a5203a", "#0e5f80"]
C_JIT = ["#d9707e", "#7f9aa8"]
C_FILL = ["#e8bcc0", "#e2eaee"]
for g in B_GENES:
    l, r = C_FRAMES[g]
    yt = C_YT[g]
    sx = S([-.19, 3.19], l, r)
    sy = S(dom(yt[0], yt[1], yt[2], yt[3], C_BOT, C_TOP), C_BOT, C_TOP)
    pl = []
    for gi, (q1, med, q3, lo, hi) in enumerate(BOXES[g]):
        xc = gi + 1
        d = pd.DataFrame(dict(xc=[xc], x0=[xc - .157], x1=[xc + .157], q1=[q1], med=[med], q3=[q3], lo=[lo], hi=[hi]))
        X0 = alt.X("x0:Q", scale=sx, axis=None)
        pl.append(alt.Chart(d).mark_rect(fill=C_FILL[gi], fillOpacity=.8, stroke=C_COL[gi], strokeWidth=2.6).encode(x=X0, x2="x1:Q",
                  y=alt.Y("q1:Q", scale=sy, axis=None), y2="q3:Q"))
    for gi, pts_y in enumerate([HIGH_PTS[g], LOW_PTS[g]]):
        pdf = pd.DataFrame(dict(y=pts_y, x=[gi + 1 + JIT[k % len(JIT)] * (1.3 if gi == 0 else 2.5) for k in range(len(pts_y))]))
        pl.append(alt.Chart(pdf).mark_circle(color=C_JIT[gi], size=13, opacity=.32).encode(
            x=alt.X("x:Q", scale=sx, axis=None), y=alt.Y("y:Q", scale=sy, axis=None)))
    for gi, (q1, med, q3, lo, hi) in enumerate(BOXES[g]):
        xc = gi + 1
        d = pd.DataFrame(dict(xc=[xc], x0=[xc - .157], x1=[xc + .157], q1=[q1], med=[med], q3=[q3], lo=[lo], hi=[hi]))
        Xc = alt.X("xc:Q", scale=sx, axis=None)
        X0 = alt.X("x0:Q", scale=sx, axis=None)
        c = C_COL[gi]
        pl.append(alt.Chart(d).mark_rule(color=c, strokeWidth=2.4).encode(x=Xc, y=alt.Y("lo:Q", scale=sy, axis=None), y2="q1:Q"))
        pl.append(alt.Chart(d).mark_rule(color=c, strokeWidth=2.4).encode(x=Xc, y=alt.Y("q3:Q", scale=sy, axis=None), y2="hi:Q"))
        pl.append(alt.Chart(d).mark_rule(color=c, strokeWidth=4.5).encode(x=X0, x2="x1:Q", y=alt.Y("med:Q", scale=sy, axis=None)))
    layers.append(alt.layer(*pl))
    layers.append(box(l, r, C_TOP, C_BOT, stroke="#555555", sw=2.5))
    layers.append(y_axis_layer(sy, axL(yt[4], l, format=yt[5], pad=1, tick=3, col="#444444"), yt[4]))
    layers.append(box(l, r, 1030, 1052, fill="#a6a6a6", stroke="#a6a6a6", sw=1))
    layers.append(T(g, (l + r) / 2 + 1, 1041, 20, weight="bold", style="italic", color="white"))
    if C_SIG[g] == "NS":
        layers.append(T("NS", (l + r) / 2 + 2, 811, 21))
    else:
        layers.append(T(C_SIG[g], (l + r) / 2 + 0, 809, 20))
layers += [T("c", 24, 765, 22, weight="bold"), T("RNA Expression", 48, 908, 21, angle=270),
           T("log2(normalized counts + 1)", 68, 898, 20.8, angle=270),
           bar(793, 806, 999, "#a5203a"), T("High", 817, 1001, 20.5, align="left"),
           bar(793, 806, 1017, "#0e8c94"), T("Low", 817, 1019, 20.5, align="left")]

# ---------------- survival panels ----------------
def km(g, l, r, t, b, x0px, x160px, y1px, y0px, off, tx, nr, nb, custom_labels=None):
    d = KM[g]
    sx = S(dom(0, x0px, 160, x160px, l, r), l, r)
    sy = S(dom(1, y1px, 0, y0px, b, t), b, t)
    X0 = alt.X("t:Q", scale=sx, axis=None)
    Y0 = alt.Y("s:Q", scale=sy, axis=None)
    hi = pd.DataFrame(d["high"], columns=["t", "s"])
    lo = pd.DataFrame(d["low"], columns=["t", "s"])
    ch = pd.DataFrame(dict(t=d["ch"], s=[d["high"][-1][1]] * len(d["ch"])))
    cl = pd.DataFrame(dict(t=d["cl"], s=[d["low"][-1][1]] * len(d["cl"])))
    yvals = [0, .2, .4, .6, .8, 1]
    xvals = [0, 40, 80, 120, 160]
    yaxis = axL(yvals, l, format=".1f", pad=2) if custom_labels is None else axL(yvals, l, labels=False)
    pl = [alt.Chart(hi).mark_line(color=RED, strokeWidth=5, interpolate="step-after").encode(x=X0, y=Y0),
          alt.Chart(ch).mark_circle(color=RED, size=30, opacity=1).encode(x=X0, y=Y0),
          alt.Chart(lo).mark_line(color=BLUE, strokeWidth=5, interpolate="step-after").encode(x=X0, y=Y0),
          alt.Chart(cl).mark_circle(color=BLUE, size=30, opacity=1).encode(x=X0, y=Y0)]
    nh = pd.DataFrame(dict(t=RISK_T, n=d["nh"]))
    nl = pd.DataFrame(dict(t=RISK_T, n=d["nl"]))
    pl.append(alt.Chart(nh).mark_text(font=F, fontSize=21, color=RED).encode(x=X0, y=px(nr), text="n:N"))
    pl.append(alt.Chart(nl).mark_text(font=F, fontSize=21, color=BLUE).encode(x=X0, y=px(nb), text="n:N"))
    out = [alt.layer(*pl), box(l, r, t, b, sw=2.2), x_axis_layer(sx, axB(xvals, b, pad=5), xvals), y_axis_layer(sy, yaxis, yvals)]
    dy = t - 1120.7
    out += [T(g, tx, t - 14.7 if custom_labels is None else 760, 20, weight="bold", style="italic")]
    out += [bar(l + off[0], l + off[0] + 15, 1248 + dy if custom_labels is None else 900, RED, 4.5),
            bar(l + off[0], l + off[0] + 15, 1266.7 + dy if custom_labels is None else 918, BLUE, 4.5),
            T("High", l + off[1], 1250.7 + dy if custom_labels is None else 902, 20.5, align="left"),
            T("Low", l + off[1], 1269 + dy if custom_labels is None else 921, 20.5, align="left"),
            T("Log\u2212rank", l + off[2], 1297 + dy if custom_labels is None else 950, 20.5, align="left"),
            T(d["p"], l + off[2], 1316.7 + dy if custom_labels is None else 968, 20.5, align="left")]
    if custom_labels:
        for s, y in custom_labels:
            out.append(T(s, l - 6, y, 20.5, align="right"))
    return out

layers += km("PD-1", 950.5, 1200, 773, 1028, 959.4, 1191, 783, 1016.7, (10, 34.5, 10), 1089.6, 1001.7, 1015.7,
             custom_labels=[("1.0", 806), ("0.8", 853), ("0.6", 900), ("0.4", 947), ("0.2", 970), ("0.0", 1016.7)])
layers += km("PD-L1", 68.6, 319.6, 1120.7, 1376.7, 79.6, 310, 1131.7, 1365.7, (9, 32, 11), 202, 1350, 1364)
layers += km("CTLA4", 369, 621, 1120.7, 1376.7, 380, 611.5, 1131.7, 1365.7, (18, 40, 12.6), 496, 1350, 1364)
layers += km("CD276", 671.6, 921.6, 1120.7, 1376.7, 682.5, 912.3, 1131.7, 1365.7, (17, 38.4, 11), 796.6, 1350, 1364)
layers += km("LAG3", 972.8, 1222.8, 1120.7, 1376.7, 983.7, 1213.5, 1131.7, 1365.7, (20, 42, 11), 1101.9, 1350, 1364)
layers += [T("d", 874, 765, 22, weight="bold"),
           T("Survival probability", 900, 905, 21, angle=270), T("Survival probability", 20, 1258, 21, angle=270),
           T("Disease\u2212free survival (Months)", 1080.7, 1067.7, 20.8),
           T("Disease\u2212free survival (Months)", 195, 1418, 20.8), T("Disease\u2212free survival (Months)", 497, 1418, 20.8),
           T("Disease\u2212free survival (Months)", 804.7, 1418, 20.8), T("Disease\u2212free survival (Months)", 1100.6, 1418, 20.8)]

# ---------------- panel e ----------------
M_BOX = [(73.5, 221, 1499, 1646.7), (273.5, 421.6, 1500, 1647.7), (477.6, 625.7, 1501.7, 1649.3),
         (679.3, 828, 1500, 1647.7), (884, 1032, 1498.3, 1646.7), (1088.5, 1237, 1498.3, 1646.7)]
M_TITLE = [(143.7, 1462), (348, 1462), (553, 1463), (751, 1462), (958, 1462), (1161.5, 1460)]
M_TF = [(94.7, 174.7, 1489), (300, 392, 1490), (505, 588.6, 1491), (708.7, 788, 1490), (912, 992, 1487), (1112.7, 1192.6, 1487)]
M_HL = [(56, 1530, 1623), (257, 1525, 1623), (460, 1532, 1628), (663.5, 1532, 1623), (868.8, 1527, 1622), (1072.4, 1525, 1618)]
M_NAME = [(32.6, 1573), (240, 1565), (441, 1568), (643.4, 1572), (849, 1575), (1052.7, 1575)]
M_PP = [(147.8, 1656), (342, 1656), (547, 1656.5), (758, 1656), (942.6, 1656), (1168, 1656)]
TEAL, GREY = "#006d82", "#bcb9bc"
for i, g in enumerate(MOS_NAMES):
    l, r, t, b = M_BOX[i]
    sp = MOS_HIGH_ROW[i]
    ht, lt = MOS_HIGH_TRUE[i], MOS_LOW_TRUE[i]
    md = pd.DataFrame(dict(x0=[0, ht, 0, lt], x1=[ht, 1, lt, 1], y0=[0, 0, sp, sp], y1=[sp, sp, 1, 1], c=[TEAL, GREY, TEAL, GREY]))
    layers.append(alt.Chart(md).mark_rect(stroke="white", strokeWidth=3.2).encode(
        x=alt.X("x0:Q", scale=S([0, 1], l - 1.6, r + 1.6), axis=None), x2="x1:Q",
        y=alt.Y("y0:Q", scale=S([0, 1], t - 1.6, b + 1.6), axis=None), y2="y1:Q",
        color=alt.Color("c:N", scale=None)))
    layers += [T("Responder", M_TITLE[i][0], M_TITLE[i][1], 21, weight="bold"),
               T("True", M_TF[i][0], M_TF[i][2], 21.5), T("False", M_TF[i][1], M_TF[i][2], 21.5),
               T("High", M_HL[i][0], M_HL[i][1], 20.5, angle=270), T("Low", M_HL[i][0], M_HL[i][2], 20.5, angle=270),
               T(g, M_NAME[i][0], M_NAME[i][1], 22, angle=270, weight="bold", style="italic"),
               T(MOS_P[i], M_PP[i][0], M_PP[i][1], 21)]
layers.append(T("e", 17, 1460, 22, weight="bold"))

chart = alt.layer(*layers).resolve_scale(x="independent", y="independent", color="independent", size="independent").properties(
    width=W, height=H, padding=0, autosize=alt.AutoSizeParams(type="none")
).configure_view(stroke=None)

chart.save("out.html", embed_options={"renderer": "svg", "actions": False})
